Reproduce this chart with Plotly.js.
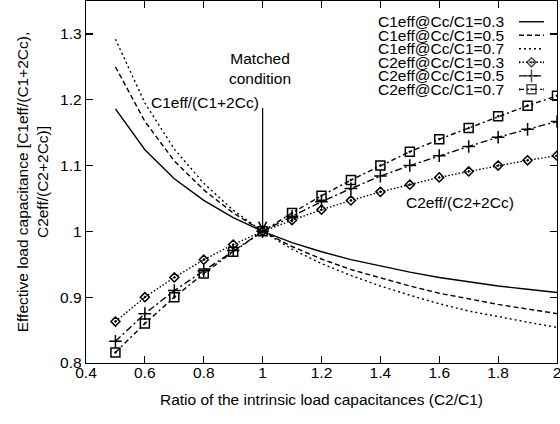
<!DOCTYPE html>
<html>
<head>
<meta charset="utf-8">
<script src="https://cdn.plot.ly/plotly-3.0.1.min.js"></script>
<style>html,body{margin:0;padding:0;background:#fff;}#chart{width:560px;height:424px;}</style>
</head>
<body>
<div id="chart"></div>
<script>
// ---- data ----
const ratioC2C1 = [0.5, 0.6, 0.7, 0.8, 0.9, 1.0, 1.1, 1.2, 1.3, 1.4, 1.5, 1.6, 1.7, 1.8, 1.9, 2.0];
const c1eff_cc03 = [1.186, 1.124, 1.080, 1.047, 1.021, 1.000, 0.983, 0.969, 0.957, 0.947, 0.938, 0.930, 0.923, 0.917, 0.912, 0.907];
const c1eff_cc05 = [1.250, 1.167, 1.107, 1.063, 1.028, 1.000, 0.977, 0.958, 0.942, 0.929, 0.917, 0.906, 0.897, 0.889, 0.882, 0.875];
const c1eff_cc07 = [1.292, 1.195, 1.125, 1.073, 1.032, 1.000, 0.973, 0.951, 0.933, 0.917, 0.903, 0.890, 0.879, 0.870, 0.862, 0.854];
const c2eff_cc03 = [0.863, 0.900, 0.930, 0.957, 0.980, 1.000, 1.017, 1.033, 1.047, 1.060, 1.071, 1.082, 1.091, 1.100, 1.108, 1.115];
const c2eff_cc05 = [0.833, 0.875, 0.910, 0.940, 0.971, 1.000, 1.023, 1.045, 1.065, 1.084, 1.100, 1.115, 1.129, 1.143, 1.155, 1.167];
const c2eff_cc07 = [0.816, 0.860, 0.900, 0.936, 0.969, 1.000, 1.028, 1.054, 1.078, 1.100, 1.121, 1.140, 1.157, 1.175, 1.191, 1.206];
const seriesNames = ['C1eff@Cc/C1=0.3', 'C1eff@Cc/C1=0.5', 'C1eff@Cc/C1=0.7',
                     'C2eff@Cc/C1=0.3', 'C2eff@Cc/C1=0.5', 'C2eff@Cc/C1=0.7'];
const seriesValues = [c1eff_cc03, c1eff_cc05, c1eff_cc07, c2eff_cc03, c2eff_cc05, c2eff_cc07];
const xTickVals = [0.4, 0.6, 0.8, 1, 1.2, 1.4, 1.6, 1.8, 2];
const yTickVals = [0.8, 0.9, 1, 1.1, 1.2, 1.3];
const matchedPoint = [1, 1];

// ---- styles ----
const FONT = 'Liberation Sans, Arial, Helvetica, sans-serif';
const FS = 15.5;
const styles = [
  {dash: 'solid', symbol: null},
  {dash: '5px,3px', symbol: null},
  {dash: '2px,3px', symbol: null},
  {dash: '1.5px,2px', symbol: 'diamond-open-dot', size: 7},
  {dash: '7px,3px,2px,3px', symbol: 'cross-thin', size: 9},
  {dash: '5px,3px,2px,3px', symbol: 'square-open-dot', size: 9}
];

const traces = [];
seriesValues.forEach((vals, i) => {
  const s = styles[i];
  const t = {
    x: ratioC2C1, y: vals, name: seriesNames[i], type: 'scatter',
    mode: s.symbol ? 'lines+markers' : 'lines',
    line: {color: '#000', width: 1.4, dash: s.dash},
    showlegend: false, xaxis: 'x', yaxis: 'y'
  };
  if (s.symbol) t.marker = {symbol: s.symbol, size: s.size, color: '#000', line: {color: '#000', width: 1.5}};
  traces.push(t);
});

// custom gnuplot-like key: samples in a small hidden subplot, labels as annotations
const keyX = [0, 0.5, 1];
seriesNames.forEach((nm, i) => {
  const s = styles[i];
  const t = {
    x: keyX, y: [i, i, i], type: 'scatter', mode: s.symbol ? 'lines+markers' : 'lines',
    line: {color: '#000', width: 1.4, dash: s.dash}, showlegend: false,
    xaxis: 'x2', yaxis: 'y2', hoverinfo: 'skip'
  };
  if (s.symbol) t.marker = {symbol: s.symbol, size: [0, s.size, 0], color: '#000', line: {color: '#000', width: 1.5}};
  traces.push(t);
});

// pixel helpers for layout placement
const L = 86, R = 557, T = 1, B = 363;
const pxX = p => (p - L) / (R - L);
const pxY = p => (B - p) / (B - T);
const rowTop = 15, rowH = 13.52;

const annotations = [];
seriesNames.forEach((nm, i) => {
  annotations.push({
    xref: 'paper', yref: 'paper', x: pxX(505), y: pxY(rowTop + rowH * (i + 0.5)),
    xanchor: 'right', yanchor: 'middle', text: nm, showarrow: false, borderpad: 0,
    font: {family: FONT, size: FS, color: '#000'}
  });
});
annotations.push({
  xref: 'x', yref: 'y', x: 0.99, y: 1.247, text: 'Matched<br>condition', showarrow: false,
  xanchor: 'center', yanchor: 'middle', font: {family: FONT, size: FS, color: '#000'}
});
annotations.push({
  xref: 'x', yref: 'y', x: 0.803, y: 1.1965, text: 'C1eff/(C1+2Cc)', showarrow: false,
  xanchor: 'center', yanchor: 'middle', font: {family: FONT, size: FS, color: '#000'}
});
annotations.push({
  xref: 'x', yref: 'y', x: 1.671, y: 1.0446, text: 'C2eff/(C2+2Cc)', showarrow: false,
  xanchor: 'center', yanchor: 'middle', font: {family: FONT, size: FS, color: '#000'}
});
annotations.push({
  xref: 'x', yref: 'y', x: matchedPoint[0], y: matchedPoint[1],
  axref: 'x', ayref: 'y', ax: matchedPoint[0], ay: 1.2026,
  text: ' ', showarrow: true, arrowhead: 5, arrowsize: 1.3, arrowwidth: 1.2, arrowcolor: '#000'
});

const axisCommon = {
  showgrid: false, zeroline: false, showline: true, linecolor: '#000', linewidth: 1.3,
  ticks: 'inside', ticklen: 7, tickwidth: 1.2, tickcolor: '#000', mirror: 'ticks',
  tickfont: {family: FONT, size: FS, color: '#000'}, automargin: false,
  ticklabeloverflow: 'allow'
};

const layout = {
  width: 560, height: 424,
  margin: {l: L, r: 560 - R, t: T, b: 424 - B},
  paper_bgcolor: '#fff', plot_bgcolor: 'rgba(0,0,0,0)',
  showlegend: false,
  xaxis: Object.assign({}, axisCommon, {
    range: [0.4, 2], tickmode: 'array', tickvals: xTickVals,
    ticktext: xTickVals.map(v => String(v)), ticklabelstandoff: -5,
    title: {text: 'Ratio of the intrinsic load capacitances (C2/C1)', font: {family: FONT, size: FS, color: '#000'}, standoff: 14}
  }),
  yaxis: Object.assign({}, axisCommon, {
    range: [0.8, 1.35], tickmode: 'array', tickvals: yTickVals,
    ticktext: yTickVals.map(v => String(v)),
    title: {text: 'Effective load capacitance [C1eff/(C1+2Cc),<br>C2eff/(C2+2Cc)]', font: {family: FONT, size: FS, color: '#000'}, standoff: 7}
  }),
  xaxis2: {domain: [pxX(519), pxX(544)], anchor: 'y2', range: [0, 1], visible: false, fixedrange: true},
  yaxis2: {domain: [pxY(rowTop + rowH * 6), pxY(rowTop)], anchor: 'x2', range: [5.5, -0.5], visible: false, fixedrange: true},
  annotations: annotations
};

Plotly.newPlot('chart', traces, layout, {displayModeBar: false, staticPlot: true});
</script>
</body>
</html>
